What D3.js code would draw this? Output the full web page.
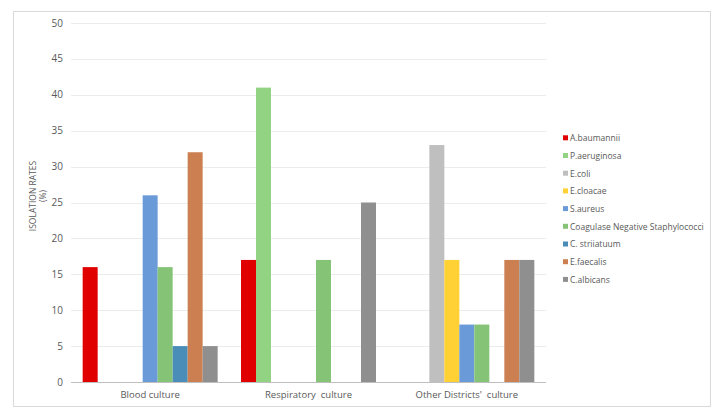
<!DOCTYPE html>
<html>
<head>
<meta charset="utf-8">
<script src="https://cdn.jsdelivr.net/npm/d3@7"></script>
<style>
  body { margin: 0; background: #fff; }
  text { font-family: "Open Sans", "Liberation Sans", sans-serif; fill: #595959; }
</style>
</head>
<body>
<div id="chart"></div>
<script>
// chart data
var categories = ["Blood culture", "Respiratory  culture", "Other Districts'  culture"];
var species = ["A.baumannii", "P.aeruginosa", "E.coli", "E.cloacae", "S.aureus",
               "Coagulase Negative Staphylococci", "C. striiatuum", "E.faecalis", "C.albicans"];
var colors = ["#E00000", "#92D283", "#BFBFBF", "#FFD134", "#6A9BD8",
              "#85C476", "#4A8DB8", "#CC7F50", "#8F8F8F"];
// one row per species, values per category (0 = no bar)
var bloodValues = [16, 0, 0, 0, 26, 16, 5, 32, 5];
var respValues  = [17, 41, 0, 0, 0, 17, 0, 0, 25];
var otherValues = [0, 0, 33, 17, 8, 8, 0, 17, 17];
var yTicks = [0, 5, 10, 15, 20, 25, 30, 35, 40, 45, 50];

var width = 722, height = 418;
var margin = {left: 71, right: 176, top: 23, bottom: 36};

var svg = d3.select("#chart").append("svg")
    .attr("width", width)
    .attr("height", height);

// outer frame
svg.append("rect")
    .attr("x", 13.5).attr("y", 11.5)
    .attr("width", 697).attr("height", 395)
    .attr("fill", "#fff")
    .attr("stroke", "#d9d9d9");

var x0 = d3.scaleBand()
    .domain(categories)
    .range([margin.left, width - margin.right])
    .paddingInner(0.1475)
    .paddingOuter(0.0737);

var x1 = d3.scaleBand()
    .domain(species)
    .range([0, x0.bandwidth()]);

var y = d3.scaleLinear()
    .domain([0, 50])
    .range([height - margin.bottom, margin.top]);

// gridlines
svg.append("g").selectAll("line")
    .data(yTicks.slice(1))
    .enter().append("line")
      .attr("x1", margin.left).attr("x2", width - margin.right)
      .attr("y1", function(d) { return Math.round(y(d)) + 0.5; })
      .attr("y2", function(d) { return Math.round(y(d)) + 0.5; })
      .attr("stroke", "#ececec");

// y axis labels
svg.append("g").selectAll("text")
    .data(yTicks)
    .enter().append("text")
      .attr("x", 63)
      .attr("y", function(d) { return y(d); })
      .attr("dy", "0.35em")
      .attr("text-anchor", "end")
      .style("font-size", "10px")
      .text(function(d) { return d; });

var rows = [bloodValues, respValues, otherValues];
var flat = [];
categories.forEach(function(c, i) {
  species.forEach(function(s, j) {
    if (rows[i][j] > 0) flat.push({cat: c, sp: s, v: rows[i][j], color: colors[j]});
  });
});

svg.append("g").selectAll("rect")
    .data(flat)
    .enter().append("rect")
      .attr("x", function(d) { return x0(d.cat) + x1(d.sp); })
      .attr("y", function(d) { return y(d.v); })
      .attr("width", x1.bandwidth())
      .attr("height", function(d) { return y(0) - y(d.v); })
      .attr("fill", function(d) { return d.color; });

// baseline
svg.append("line")
    .attr("x1", margin.left).attr("x2", width - margin.right)
    .attr("y1", y(0) + 0.5).attr("y2", y(0) + 0.5)
    .attr("stroke", "#bfbfbf");

// category labels
svg.append("g").selectAll("text")
    .data(categories)
    .enter().append("text")
      .attr("x", function(d) { return x0(d) + x0.bandwidth() / 2; })
      .attr("y", y(0) + 16)
      .attr("text-anchor", "middle")
      .style("font-size", "9.5px")
      .style("white-space", "pre")
      .text(function(d) { return d; });

// y axis title
var title = svg.append("text")
    .attr("transform", "translate(36,196) rotate(-90)")
    .attr("text-anchor", "middle")
    .style("font-size", "8.5px");
title.append("tspan").attr("x", 0).attr("dy", 0).text("ISOLATION RATES");
title.append("tspan").attr("x", 0).attr("dy", "1.15em").text("(%)");

// legend
var legend = svg.append("g").selectAll("g")
    .data(species)
    .enter().append("g")
      .attr("transform", function(d, i) { return "translate(563," + (138.3 + i * 17.7) + ")"; });

legend.append("rect")
    .attr("x", 0).attr("y", -3)
    .attr("width", 5).attr("height", 5)
    .attr("fill", function(d, i) { return colors[i]; });

legend.append("text")
    .attr("x", 7)
    .attr("dy", "0.35em")
    .style("font-size", "8.5px")
    .text(function(d) { return d; });
</script>
</body>
</html>
